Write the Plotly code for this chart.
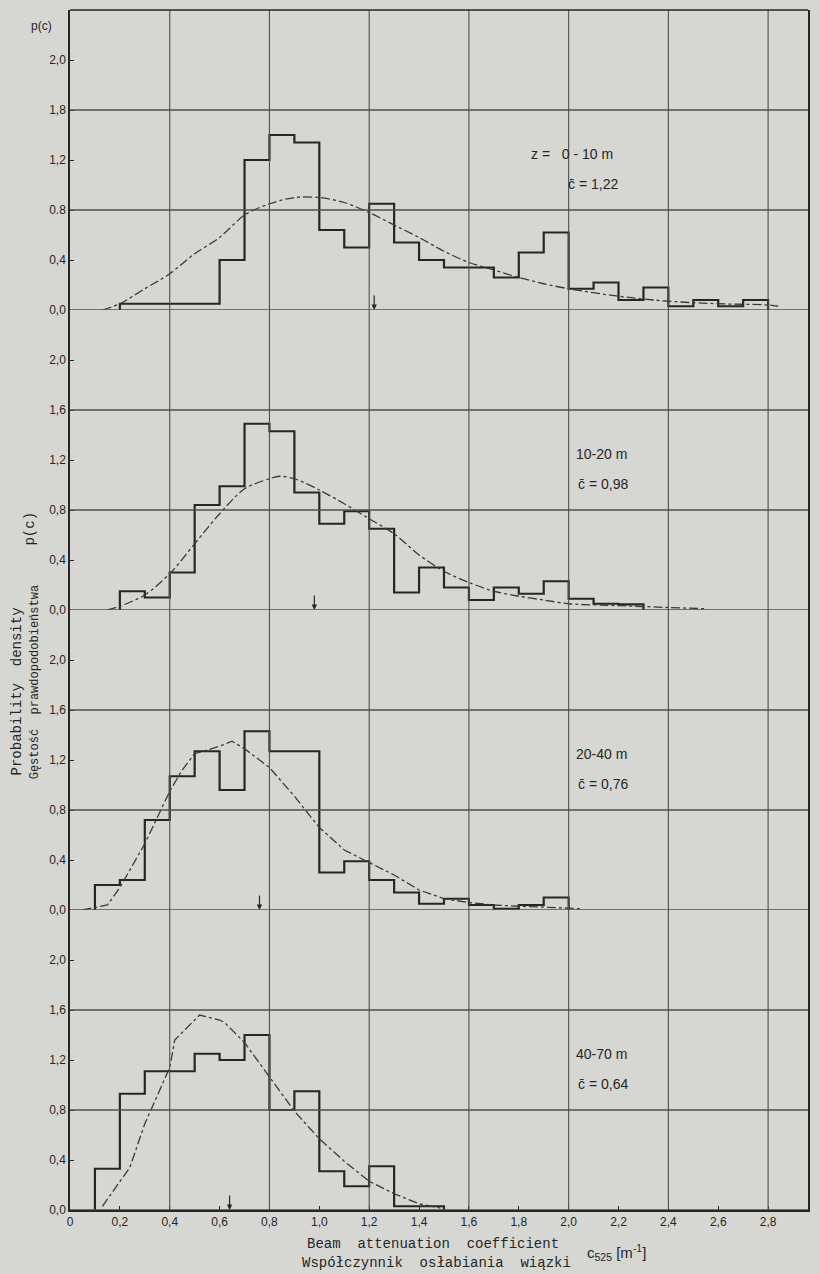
import plotly.graph_objects as go
from plotly.subplots import make_subplots

# ---------------- data ----------------
bin_width = 0.1
hist_start = [0.2, 0.2, 0.1, 0.1]
hist_1 = [0.05, 0.05, 0.05, 0.05, 0.40, 1.20, 1.40, 1.34, 0.64, 0.50, 0.85, 0.54, 0.40,
          0.34, 0.34, 0.26, 0.46, 0.62, 0.17, 0.22, 0.08, 0.18, 0.03, 0.08, 0.03, 0.08]
hist_2 = [0.15, 0.10, 0.30, 0.84, 0.99, 1.49, 1.43, 0.94, 0.69, 0.79, 0.65, 0.14, 0.34,
          0.18, 0.08, 0.18, 0.13, 0.23, 0.09, 0.05, 0.045]
hist_3 = [0.20, 0.24, 0.72, 1.07, 1.27, 0.96, 1.43, 1.27, 1.27, 0.30, 0.39, 0.24, 0.14,
          0.05, 0.09, 0.04, 0.01, 0.04, 0.10]
hist_4 = [0.33, 0.93, 1.11, 1.11, 1.25, 1.20, 1.40, 0.80, 0.95, 0.31, 0.19, 0.35, 0.03, 0.03]

curve_1_x = [0.13, 0.2, 0.3, 0.4, 0.5, 0.6, 0.7, 0.8, 0.9, 1.0, 1.1, 1.2, 1.3, 1.4, 1.5,
             1.6, 1.7, 1.8, 1.9, 2.0, 2.2, 2.4, 2.6, 2.8, 2.84]
curve_1_y = [0.0, 0.05, 0.17, 0.29, 0.45, 0.58, 0.76, 0.85, 0.90, 0.90, 0.86, 0.78, 0.68,
             0.58, 0.47, 0.38, 0.32, 0.26, 0.21, 0.17, 0.11, 0.07, 0.05, 0.04, 0.03]
curve_2_x = [0.15, 0.2, 0.3, 0.4, 0.5, 0.6, 0.7, 0.8, 0.84, 0.9, 1.0, 1.1, 1.2, 1.3, 1.4,
             1.5, 1.6, 1.7, 1.8, 1.9, 2.0, 2.2, 2.4, 2.55]
curve_2_y = [0.0, 0.03, 0.12, 0.29, 0.53, 0.77, 0.97, 1.05, 1.07, 1.05, 0.96, 0.85, 0.73,
             0.61, 0.44, 0.31, 0.22, 0.15, 0.11, 0.08, 0.05, 0.035, 0.02, 0.01]
curve_3_x = [0.05, 0.15, 0.2, 0.3, 0.4, 0.45, 0.5, 0.6, 0.65, 0.7, 0.8, 0.9, 1.0, 1.1,
             1.2, 1.3, 1.4, 1.5, 1.6, 1.7, 1.8, 1.9, 2.0, 2.05]
curve_3_y = [0.0, 0.04, 0.18, 0.53, 0.95, 1.12, 1.25, 1.31, 1.35, 1.29, 1.14, 0.91, 0.66,
             0.48, 0.38, 0.28, 0.16, 0.09, 0.06, 0.04, 0.03, 0.025, 0.015, 0.01]
curve_4_x = [0.13, 0.24, 0.3, 0.4, 0.42, 0.5, 0.52, 0.6, 0.62, 0.7, 0.8, 0.9, 1.0, 1.1,
             1.2, 1.3, 1.4, 1.5]
curve_4_y = [0.03, 0.34, 0.69, 1.14, 1.36, 1.52, 1.56, 1.52, 1.50, 1.34, 1.06, 0.79, 0.57,
             0.39, 0.23, 0.13, 0.05, 0.01]

means = [1.22, 0.98, 0.76, 0.64]
depth_labels = ["z =   0 - 10 m", "10-20 m", "20-40 m", "40-70 m"]
mean_labels = ["c\u0304 = 1,22", "c\u0304 = 0,98", "c\u0304 = 0,76", "c\u0304 = 0,64"]

y_tickvals = [0.0, 0.4, 0.8, 1.2, 1.6, 2.0]
y_ticktext = [
    ["0,0", "0,4", "0.8", "1,2", "1,8", "2,0"],
    ["0,0", "0,4", "0,8", "1,2", "1,6", "2,0"],
    ["0,0", "0,4", "0,8", "1,2", "1,6", "2,0"],
    ["0,0", "0,4", "0,8", "1,2", "1,6", "2,0"],
]
x_tickvals = [0, 0.2, 0.4, 0.6, 0.8, 1.0, 1.2, 1.4, 1.6, 1.8, 2.0, 2.2, 2.4, 2.6, 2.8]
x_ticktext = ["0", "0,2", "0,4", "0,6", "0,8", "1,0", "1,2", "1,4", "1,6", "1,8",
              "2,0", "2,2", "2,4", "2,6", "2,8"]
x_grid = [0.4, 0.8, 1.2, 1.6, 2.0, 2.4, 2.8]
y_grid = [0.0, 0.8, 1.6]

hists = [hist_1, hist_2, hist_3, hist_4]
curves = [(curve_1_x, curve_1_y), (curve_2_x, curve_2_y),
          (curve_3_x, curve_3_y), (curve_4_x, curve_4_y)]
curve_shapes = ["spline", "spline", "linear", "linear"]

# ---------------- style ----------------
BG = "#d6d6d3"
INK = "#262626"
GRID = "#4f4f4f"
FONT = "Liberation Sans"
MONO = "Liberation Mono"

fig = make_subplots(rows=4, cols=1, shared_xaxes=True, vertical_spacing=0)

for i in range(4):
    r = i + 1
    vals = hists[i]
    edges = [round(hist_start[i] + k * bin_width, 3) for k in range(len(vals) + 1)]
    hx = [edges[0]] + edges
    hy = [0.0] + vals + [0.0]
    fig.add_trace(go.Scatter(x=hx, y=hy, mode="lines", line_shape="hv",
                             line=dict(color=INK, width=2.2), showlegend=False,
                             hoverinfo="skip"), row=r, col=1)
    cx, cy = curves[i]
    fig.add_trace(go.Scatter(x=cx, y=cy, mode="lines",
                             line=dict(color="#3a3a3a", width=1.3, dash="dashdot",
                                       shape=curve_shapes[i], smoothing=0.8),
                             showlegend=False, hoverinfo="skip"), row=r, col=1)
    for g in y_grid:
        fig.add_hline(y=g, row=r, col=1, line=dict(color=GRID, width=1.3))
    fig.update_yaxes(range=[0, 2.4], tickvals=y_tickvals, ticktext=y_ticktext[i],
                     showgrid=False, zeroline=False, showline=True, mirror=True,
                     linecolor=INK, linewidth=1.5, ticks="inside", ticklen=4,
                     tickcolor=INK, tickfont=dict(family=FONT, size=12, color=INK),
                     row=r, col=1)
    fig.update_xaxes(range=[0, 2.96], showgrid=False, zeroline=False, showline=False,
                     row=r, col=1)

    yref = "y" if r == 1 else f"y{r}"
    xref = "x" if r == 1 else f"x{r}"
    fig.add_annotation(x=means[i], y=0.0, xref=xref, yref=yref, text="",
                       showarrow=True, arrowhead=2, arrowsize=0.9, arrowwidth=1.2,
                       arrowcolor=INK, ax=0, ay=-16)
    lab_x = 1.84 if r == 1 else 2.02
    fig.add_annotation(x=lab_x, y=1.25, xref=xref, yref=yref, text=depth_labels[i],
                       showarrow=False, xanchor="left", yanchor="middle",
                       font=dict(family=FONT, size=14, color=INK))
    fig.add_annotation(x=lab_x + (0.15 if r == 1 else 0.01), y=1.01, xref=xref, yref=yref,
                       text=mean_labels[i], showarrow=False, xanchor="left",
                       yanchor="middle", font=dict(family=FONT, size=14, color=INK))

for g in x_grid:
    fig.add_shape(type="line", xref="x", yref="paper", x0=g, x1=g, y0=0, y1=1,
                  line=dict(color=GRID, width=1.1))
# top frame line
fig.add_shape(type="line", xref="paper", yref="paper", x0=0, x1=1, y0=1, y1=1,
              line=dict(color=INK, width=1.6))

fig.update_xaxes(tickvals=x_tickvals, ticktext=x_ticktext, ticks="inside", ticklen=4,
                 tickcolor=INK, tickfont=dict(family=FONT, size=12, color=INK),
                 showline=True, linecolor=INK, linewidth=1.5, mirror=False,
                 row=4, col=1)

# axis titles
fig.add_annotation(x=-0.072, y=0.432, xref="paper", yref="paper",
                   text="Probability  density", textangle=-90, showarrow=False,
                   xanchor="center", yanchor="middle",
                   font=dict(family=MONO, size=14, color=INK))
fig.add_annotation(x=-0.047, y=0.44, xref="paper", yref="paper",
                   text="Gęstość  prawdopodobieństwa", textangle=-90, showarrow=False,
                   xanchor="center", yanchor="middle",
                   font=dict(family=MONO, size=12, color=INK))
fig.add_annotation(x=-0.054, y=0.568, xref="paper", yref="paper",
                   text="p(c)", textangle=-90, showarrow=False,
                   xanchor="center", yanchor="middle",
                   font=dict(family=MONO, size=14, color=INK))
fig.add_annotation(x=-0.038, y=0.987, xref="paper", yref="paper",
                   text="p(c)", showarrow=False, xanchor="center", yanchor="middle",
                   font=dict(family=FONT, size=12, color=INK))
fig.add_annotation(x=0.492, y=-0.028, xref="paper", yref="paper",
                   text="Beam  attenuation  coefficient", showarrow=False,
                   xanchor="center", yanchor="middle",
                   font=dict(family=MONO, size=14, color=INK))
fig.add_annotation(x=0.497, y=-0.044, xref="paper", yref="paper",
                   text="Współczynnik  osłabiania  wiązki", showarrow=False,
                   xanchor="center", yanchor="middle",
                   font=dict(family=MONO, size=14, color=INK))
fig.add_annotation(x=0.740, y=-0.035, xref="paper", yref="paper",
                   text="c<sub>525</sub> [m<sup>-1</sup>]", showarrow=False,
                   xanchor="center", yanchor="middle",
                   font=dict(family=FONT, size=15, color=INK))

fig.update_layout(width=820, height=1274, margin=dict(l=70, r=10, t=10, b=64),
                  paper_bgcolor=BG, plot_bgcolor=BG, showlegend=False)

fig.write_html("out.html")
